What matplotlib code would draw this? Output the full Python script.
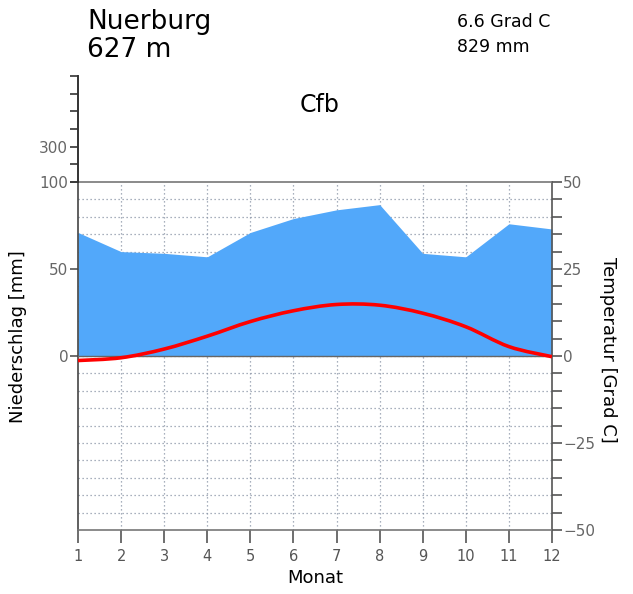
import numpy as np
import matplotlib
matplotlib.use("Agg")
import matplotlib.pyplot as plt
from matplotlib.path import Path
from matplotlib.patches import PathPatch

# Station data
station = "Nuerburg"
elevation = "627 m"
mean_temp_text = "6.6 Grad C"
annual_precip_text = "829 mm"
climate_class = "Cfb"

months = np.arange(1, 13)
precip_mm = [71, 60, 59, 57, 71, 79, 84, 87, 59, 57, 76, 73]
temp_c = [-1.3, -0.5, 2.0, 5.7, 9.9, 13.0, 14.8, 14.6, 12.3, 8.4, 2.7, -0.2]

month_labels = [str(m) for m in months]
precip_labels = ["0", "50", "100"]
precip_label_pos = [0, 50, 100]
upper_ticks = [100, 200, 300, 400, 500, 600, 700]
temp_ticks = [-50, -25, 0, 25, 50]

W, H = 633, 594
fig = plt.figure(figsize=(W / 100, H / 100), dpi=100)
plt.rcParams["font.family"] = ["DejaVu Sans"]

L, R, T, B = 78, 552, 182, 530
ax = fig.add_axes([L / W, 1 - B / H, (R - L) / W, (B - T) / H])
ax.set_xlim(1, 12)
ax.set_ylim(-100, 100)

grid_col = "#8c96a8"
for yv in range(-90, 100, 10):
    ax.axhline(yv, color=grid_col, lw=0.9, ls=(0, (1, 2.2)), zorder=1)
for xv in months[1:-1]:
    ax.axvline(xv, color=grid_col, lw=0.9, ls=(0, (1, 2.2)), zorder=1)

ax.fill_between(months, 0, precip_mm, color="#52a8fa", lw=0, zorder=2)
ax.axhline(0, color="#666666", lw=1.0, zorder=3)

# Temperature on the same vertical scale (1 degC = 2 mm), smoothed with Catmull-Rom segments
tx = np.asarray(months, float)
ty = np.asarray(temp_c, float) * 2
verts = [(tx[0], ty[0])]
codes = [Path.MOVETO]
n = len(tx)
for i in range(n - 1):
    p0 = (tx[max(i - 1, 0)], ty[max(i - 1, 0)])
    p1 = (tx[i], ty[i])
    p2 = (tx[i + 1], ty[i + 1])
    p3 = (tx[min(i + 2, n - 1)], ty[min(i + 2, n - 1)])
    c1 = (p1[0] + (p2[0] - p0[0]) / 6, p1[1] + (p2[1] - p0[1]) / 6)
    c2 = (p2[0] - (p3[0] - p1[0]) / 6, p2[1] - (p3[1] - p1[1]) / 6)
    verts += [c1, c2, p2]
    codes += [Path.CURVE4] * 3
ax.add_patch(PathPatch(Path(verts, codes), facecolor="none", edgecolor="#ff0000",
                       lw=2.6, zorder=4, clip_on=False))

for side, col in [("top", "#777777"), ("bottom", "#777777"),
                  ("left", "#444444"), ("right", "#555555")]:
    ax.spines[side].set_color(col)
    ax.spines[side].set_linewidth(1.2)

ax.set_xticks(months)
ax.set_xticklabels(month_labels, color="#555555", fontsize=10.5)
ax.tick_params(axis="x", direction="out", length=9, width=1.2, color="#555555", pad=5)
ax.set_yticks(precip_label_pos)
ax.set_yticklabels(precip_labels, color="#666666", fontsize=11)
ax.tick_params(axis="y", direction="out", length=6, width=1.2, color="#555555", pad=1)
ax.set_xlabel("Monat", fontsize=13, labelpad=3)
ax.set_ylabel("Niederschlag [mm]", fontsize=13)
ax.yaxis.set_label_coords(-0.108, 0.555)

ax2 = ax.twinx()
ax2.set_ylim(-50, 50)
ax2.set_yticks(np.arange(-50, 51, 5), minor=True)
ax2.set_yticks(temp_ticks)
ax2.set_yticklabels(["\u221250", "\u221225", "0", "25", "50"], color="#666666", fontsize=11)
ax2.tick_params(axis="y", which="both", direction="out", length=7, width=1.2,
                color="#555555", pad=1)
for s in ax2.spines.values():
    s.set_visible(False)
ax2.set_ylabel("Temperatur [Grad C]", fontsize=13, rotation=-90, va="center")
ax2.yaxis.set_label_coords(1.118, 0.517)

# Compressed precipitation scale above 100 mm
top_px = 76
ax3 = fig.add_axes([L / W, 1 - T / H, (R - L) / W, (T - top_px) / H])
ax3.set_xlim(1, 12)
ax3.set_ylim(100, 700)
ax3.patch.set_alpha(0)
for side in ["top", "right", "bottom"]:
    ax3.spines[side].set_visible(False)
ax3.spines["left"].set_color("#333333")
ax3.spines["left"].set_linewidth(1.4)
ax3.set_xticks([])
ax3.set_yticks(upper_ticks)
ax3.set_yticklabels(["" if v != 300 else "300" for v in upper_ticks],
                    color="#666666", fontsize=11)
ax3.tick_params(axis="y", direction="out", length=6, width=1.2, color="#333333", pad=1)

fig.text(87 / W, 1 - 22 / H, station, fontsize=19, va="center", ha="left")
fig.text(87 / W, 1 - 50 / H, elevation, fontsize=19, va="center", ha="left")
fig.text(457 / W, 1 - 22 / H, mean_temp_text, fontsize=12.5, va="center", ha="left")
fig.text(457 / W, 1 - 47 / H, annual_precip_text, fontsize=12.5, va="center", ha="left")
fig.text(320 / W, 1 - 105 / H, climate_class, fontsize=17, va="center", ha="center")

fig.savefig("out.png", dpi=100)
